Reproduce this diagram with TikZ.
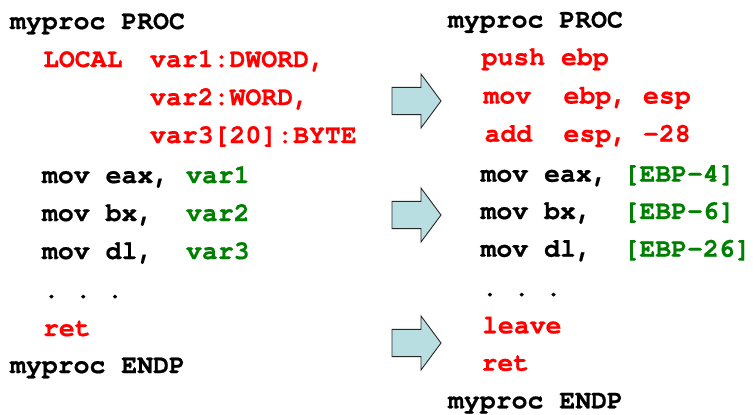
\documentclass[tikz,border=0pt]{standalone}
\usepackage{fontspec}
\setmonofont{texgyrecursor}[Extension=.otf,UprightFont=*-regular,BoldFont=*-bold,
  BoldFeatures={FakeBold=0.6}]
\definecolor{codered}{RGB}{255,0,0}
\definecolor{codegreen}{RGB}{0,128,0}
\definecolor{arrowfill}{RGB}{185,222,225}
\begin{document}
\begin{tikzpicture}[x=1pt,y=-1pt,
  asm/.style={anchor=base west,inner sep=0pt,outer sep=0pt,
    font=\fontsize{26.5}{30}\selectfont\ttfamily\bfseries},
  plain/.style={asm,text=black},
  added/.style={asm,text=codered},
  slot/.style={asm,text=codegreen},
  arrowline/.style={draw=black!85,line width=0.9pt,fill=arrowfill,line join=miter},
  pics/fatarrow/.style={code={
    \draw[arrowline] (0,-13.6) -- (29,-13.6) -- (29,-27) -- (49,0)
      -- (29,27) -- (29,13.6) -- (0,13.6) -- cycle;}}]
\fill[white] (0,0) rectangle (753,415);
\useasboundingbox (0,0) rectangle (753,415);

% ---- source procedure with LOCAL directive ----
\node[plain] (l1)  at (10,29)   {myproc PROC};
\node[added] (l2a) at (43,67)   {LOCAL};
\node[added] (l2b) at (150,67)  {var1:DWORD,};
\node[added] (l3)  at (150,105) {var2:WORD,};
\node[added] (l4)  at (150,143) {var3[20]:BYTE};
\node[plain] (l5a) at (42,183)  {mov eax,};
\node[slot]  (l5b) at (186,183) {var1};
\node[plain] (l6a) at (42,221)  {mov bx,};
\node[slot]  (l6b) at (186,221) {var2};
\node[plain] (l7a) at (42,259)  {mov dl,};
\node[slot]  (l7b) at (186,259) {var3};
\node[plain] (l8)  at (43.5,298) {. . .};
\node[added] (l9)  at (43,336)  {ret};
\node[plain] (l10) at (10,373)  {myproc ENDP};

% ---- translation arrows ----
\pic at (392,101) {fatarrow};
\pic at (392,215) {fatarrow};
\pic at (392,343) {fatarrow};

% ---- generated code with explicit stack frame ----
\node[plain] (r1)  at (448,27.5)  {myproc PROC};
\node[added] (r2)  at (481.5,65)  {push ebp};
\node[added] (r3a) at (483.5,103.5) {mov};
\node[added] (r3b) at (563.5,103.5) {ebp, esp};
\node[added] (r4a) at (484.5,141.7) {add};
\node[added] (r4b) at (563.5,141.7) {esp, -28};
\node[plain] (r5a) at (480.5,181.7) {mov eax,};
\node[slot]  (r5b) at (623.5,181.7) {[EBP-4]};
\node[plain] (r6a) at (480.5,219)   {mov bx,};
\node[slot]  (r6b) at (623.5,219)   {[EBP-6]};
\node[plain] (r7a) at (480.5,256.7) {mov dl,};
\node[slot]  (r7b) at (623.5,256.7) {[EBP-26]};
\node[plain] (r8)  at (482,296)     {. . .};
\node[added] (r9)  at (482,333.3)   {leave};
\node[added] (r10) at (481.5,370.7) {ret};
\node[plain] (r11) at (448,408.3)   {myproc ENDP};
\end{tikzpicture}
\end{document}
